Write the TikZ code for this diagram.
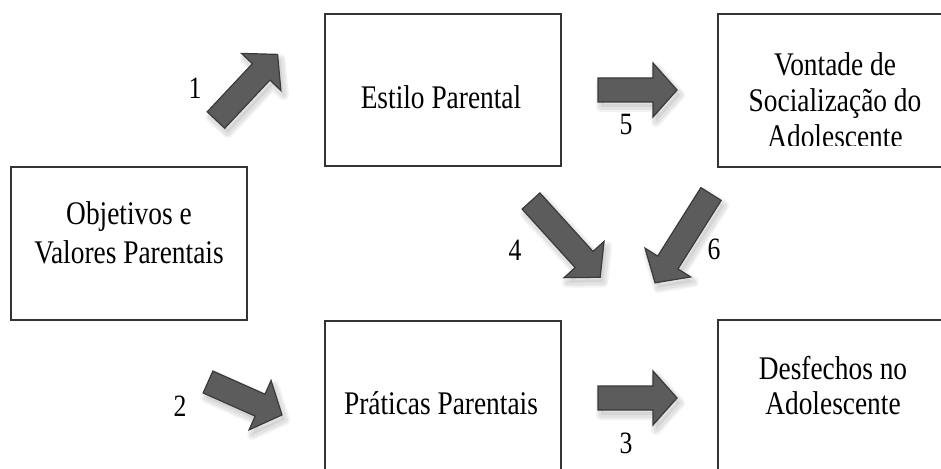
\documentclass[tikz,border=0pt]{standalone}
\usepackage{fontspec}
\setmainfont[FakeStretch=0.83]{Liberation Serif}
\definecolor{arrfill}{HTML}{5C5C5C}
\definecolor{arredge}{HTML}{3A3A3A}
\definecolor{boxedge}{HTML}{333333}
\tikzset{
  boxnode/.style={draw=boxedge, line width=1.5pt, fill=white, inner sep=0pt},
  txt/.style={inner sep=0pt, align=center, font=\fontsize{33}{36}\selectfont},
  num/.style={inner sep=0pt, font=\fontsize{31}{34}\selectfont},
  blockarrow/.style={fill=arrfill, draw=arredge, line width=1.2pt, line join=miter},
}
\newcommand\arrshape[1]{(0,-12) -- ({#1-24},-12) -- ({#1-24},-27) -- (#1,0) -- ({#1-24},27) -- ({#1-24},12) -- (0,12) -- cycle}
\newcommand\blockarr[3]{% #1 tail coordinate, #2 angle, #3 length
  \begin{scope}[shift={(#1)}, xshift=3pt, yshift=-5pt, rotate=#2]
    \fill[black, opacity=0.06] \arrshape{#3};
    \draw[black, opacity=0.06, line width=6pt, line join=round] \arrshape{#3};
    \draw[black, opacity=0.05, line width=10pt, line join=round] \arrshape{#3};
  \end{scope}
  \begin{scope}[shift={(#1)}, rotate=#2]
    \filldraw[blockarrow] \arrshape{#3};
  \end{scope}}
\begin{document}
\begin{tikzpicture}[x=1pt, y=-1pt]
\useasboundingbox (0,0) rectangle (941,468);
\clip (0,0) rectangle (941,468);
\fill[white] (0,0) rectangle (941,468);

% boxes
\node[boxnode, minimum width=236pt, minimum height=153pt] (objbox) at (129,243.5) {};
\node[boxnode, minimum width=236pt, minimum height=152pt] (estbox) at (443,90) {};
\node[boxnode, minimum width=230pt, minimum height=153pt] (vonbox) at (833,90.5) {};
\node[boxnode, minimum width=236pt, minimum height=160pt] (prabox) at (443,401) {};
\node[boxnode, minimum width=230pt, minimum height=160pt] (desbox) at (833,400) {};

% texts
\node[txt, font=\fontsize{33}{39}\selectfont] (objtxt) at (129,233) {Objetivos e\\Valores Parentais};
\node[txt] (esttxt) at (441,97) {Estilo Parental};
\begin{scope}
  \clip (700,0) rectangle (941,145);
  \node[txt, font=\fontsize{33}{36}\selectfont] (vontxt) at (835,100) {Vontade de\\Socialização do\\Adolescente};
\end{scope}
\node[txt] (pratxt) at (441,403) {Práticas Parentais};
\node[txt, font=\fontsize{33}{35}\selectfont] (destxt) at (833,386) {Desfechos no\\Adolescente};

% block arrows
\coordinate (a1) at (216,120);
\coordinate (a2) at (208,382);
\coordinate (a3) at (598,398);
\coordinate (a4) at (531,201);
\coordinate (a5) at (598,90);
\coordinate (a6) at (711,194);
\blockarr{a1}{46.8}{90}
\blockarr{a2}{-24}{81}
\blockarr{a3}{0}{79}
\blockarr{a4}{-47.8}{103}
\blockarr{a5}{0}{79}
\blockarr{a6}{-122.2}{105}

% numbers
\node[num] (n1) at (195,88) {1};
\node[num] (n2) at (180,406) {2};
\node[num] (n3) at (626,443) {3};
\node[num] (n4) at (515,250) {4};
\node[num] (n5) at (626,125) {5};
\node[num] (n6) at (714,249) {6};
\end{tikzpicture}
\end{document}
